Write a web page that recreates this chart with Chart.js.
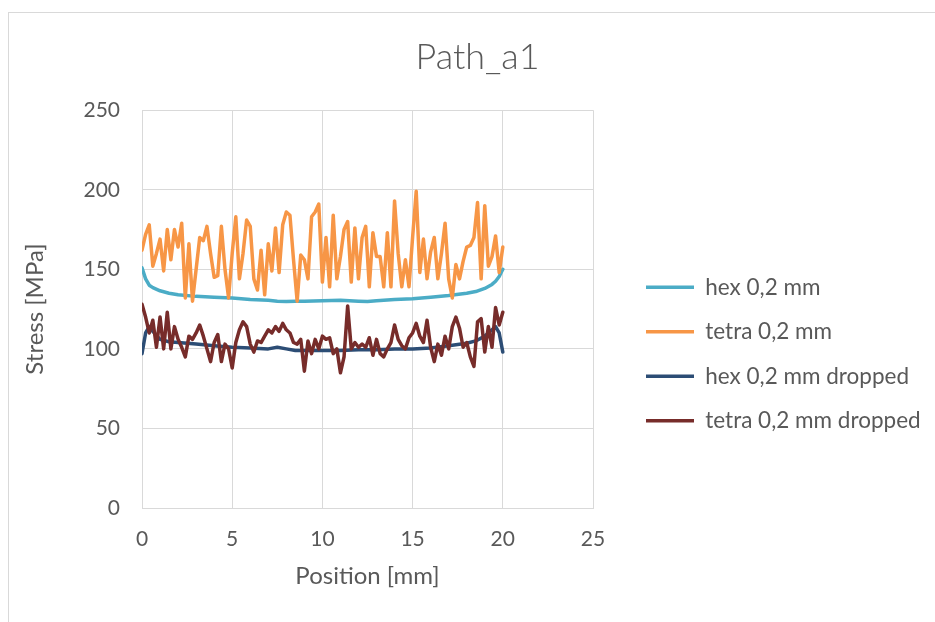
<!DOCTYPE html>
<html>
<head>
<meta charset="utf-8">
<title>Path_a1</title>
<script src="https://cdn.jsdelivr.net/npm/chart.js@4.4.1/dist/chart.umd.min.js"></script>
<style>
  html, body { margin: 0; padding: 0; background: #ffffff; overflow: hidden; }
  #frame { position: absolute; left: 8px; top: 12px; width: 1000px; height: 700px;
           border: 1px solid #d9d9d9; box-sizing: border-box; }
  #wrap { position: absolute; left: 0; top: 0; width: 935px; height: 622px; }
</style>
</head>
<body>
<div id="frame"></div>
<div id="wrap"><canvas id="chart" width="935" height="622"></canvas></div>
<script>
// Stress along path a1 for the hexahedral and tetrahedral meshes (0.2 mm elements)
const seriesNames = ['hex 0,2 mm', 'tetra 0,2 mm', 'hex 0,2 mm dropped', 'tetra 0,2 mm dropped'];

// Hex results are smooth, sampled at these positions [mm]
const hexPositions = [0, 0.2, 0.4, 0.6, 1, 1.5, 2, 3, 4, 5, 6, 7, 7.5, 8, 8.5, 9, 10, 11, 12, 12.5,
                      13, 14, 15, 16, 17, 18, 18.5, 19, 19.4, 19.6, 19.8, 20];
const hexStress = [151, 144, 140, 138.5, 136.5, 135, 134, 133, 132.5, 132, 131, 130.5, 130, 129.8, 130, 130,
                   130.3, 130.5, 130, 129.8, 130.3, 131, 131.5, 132.5, 133.5, 135, 136, 138, 140.5, 142.5, 145.5, 150];
const hexDroppedStress = [97, 110, 114, 111, 106, 104.5, 104, 103, 102, 101, 100.5, 100, 101, 100, 99, 99,
                          99, 99, 99.5, 99.5, 99.5, 100, 100, 100.5, 102, 103.5, 105, 108, 112, 114, 110, 98];

// Tetra results, one value every 0.2 mm from 0 to 20 mm
const tetraStep = 0.2;
const tetraStress = [
  162, 172, 178, 152, 160, 169, 149, 175, 156, 175,
  164, 179, 132, 166, 130, 150, 170, 168, 177, 160,
  145, 146, 177, 150, 132, 160, 183, 144, 160, 181,
  177, 144, 137, 162, 134, 166, 149, 176, 148, 178,
  186, 184, 156, 130, 159, 156, 144, 183, 186, 191,
  142, 170, 139, 184, 144, 158, 175, 180, 142, 176,
  144, 170, 177, 139, 173, 158, 158, 139, 173, 139,
  193, 160, 139, 156, 139, 170, 199, 148, 169, 144,
  161, 170, 144, 160, 179, 144, 132, 153, 144, 155,
  164, 165, 170, 192, 144, 190, 152, 158, 171, 148,
  164
];
const tetraDroppedStress = [
  128, 120, 110, 118, 101, 120, 100, 123, 100, 114,
  106, 101, 95, 108, 106, 110, 115, 108, 100, 92,
  104, 109, 92, 103, 100, 88, 104, 112, 117, 114,
  103, 98, 105, 104, 108, 112, 110, 114, 111, 116,
  112, 110, 104, 103, 106, 86, 105, 97, 106, 100,
  108, 106, 107, 97, 100, 85, 95, 127, 100, 104,
  101, 103, 101, 107, 96, 106, 97, 95, 100, 104,
  115, 106, 102, 100, 107, 110, 116, 108, 104, 118,
  101, 92, 103, 96, 108, 100, 114, 120, 113, 101,
  104, 95, 89, 117, 119, 98, 114, 101, 126, 115,
  123
];
const tetraPositions = tetraStress.map((_, i) => +(i * tetraStep).toFixed(1));

// Axis ranges and tick spacing
const xTicks = { min: 0, max: 25, step: 5 };
const yTicks = { min: 0, max: 250, step: 50 };

const colors = ['#4BACC6', '#F79646', '#2C4D75', '#772C2A'];
const textColor = '#595959';
const gridColor = '#d9d9d9';
const FONT = 'Lato, Carlito, "Open Sans", sans-serif';

function pairs(xs, ys) { return xs.map((x, i) => ({ x, y: ys[i] })); }

const dataSets = [
  pairs(hexPositions, hexStress),
  pairs(tetraPositions, tetraStress),
  pairs(hexPositions, hexDroppedStress),
  pairs(tetraPositions, tetraDroppedStress)
];

// Legend sits in a fixed-width column to the right of the plot
const LEGEND_WIDTH = 342;
const LEGEND_SHIFT = { x: 31, y: 55 };
const legendColumn = {
  id: 'legendColumn',
  afterInit(chart) {
    const legend = chart.legend;
    const baseFit = legend.fit.bind(legend);
    legend.fit = function () { baseFit(); this.width = LEGEND_WIDTH; };
  },
  afterLayout(chart) {
    const legend = chart.legend;
    legend.left += LEGEND_SHIFT.x;
    legend.right += LEGEND_SHIFT.x;
    legend.top += LEGEND_SHIFT.y;
    legend.bottom += LEGEND_SHIFT.y;
  }
};

new Chart(document.getElementById('chart'), {
  type: 'line',
  data: {
    datasets: seriesNames.map((name, i) => ({
      label: name,
      data: dataSets[i],
      borderColor: colors[i],
      backgroundColor: colors[i],
      borderWidth: 3.5,
      borderCapStyle: 'round',
      borderJoinStyle: 'round',
      pointRadius: 0,
      tension: 0,
      fill: false,
      order: seriesNames.length - i
    }))
  },
  options: {
    responsive: false,
    animation: false,
    layout: { padding: { left: 20, right: 0, top: 0, bottom: 24 } },
    plugins: {
      title: {
        display: true,
        text: 'Path_a1',
        color: textColor,
        font: { family: FONT, size: 36, weight: '300' },
        padding: { top: 36, bottom: 31 }
      },
      legend: {
        position: 'right',
        align: 'center',
        labels: {
          usePointStyle: true,
          pointStyle: 'line',
          pointStyleWidth: 48,
          color: textColor,
          font: { family: FONT, size: 22.5 },
          padding: 22,
          sort: (a, b) => a.datasetIndex - b.datasetIndex
        }
      },
      tooltip: { enabled: false }
    },
    scales: {
      x: {
        type: 'linear',
        min: xTicks.min,
        max: xTicks.max,
        afterFit: (scale) => { scale.height = 90; },
        ticks: { stepSize: xTicks.step, color: textColor, font: { family: FONT, size: 21 }, padding: 19 },
        grid: { color: gridColor, lineWidth: 1, drawTicks: false },
        border: { color: gridColor, width: 1 },
        title: {
          display: true, text: 'Position [mm]', color: textColor,
          font: { family: FONT, size: 24 }, padding: { top: 8, bottom: 7 }
        }
      },
      y: {
        type: 'linear',
        min: yTicks.min,
        max: yTicks.max,
        afterFit: (scale) => { scale.width = 122; },
        ticks: { stepSize: yTicks.step, color: textColor, font: { family: FONT, size: 21 }, padding: 22 },
        grid: { color: gridColor, lineWidth: 1, drawTicks: false },
        border: { color: gridColor, width: 1 },
        title: {
          display: true, text: 'Stress [MPa]', color: textColor,
          font: { family: FONT, size: 24 }, padding: { top: 1, bottom: 10 }
        }
      }
    }
  },
  plugins: [legendColumn]
});
</script>
</body>
</html>
